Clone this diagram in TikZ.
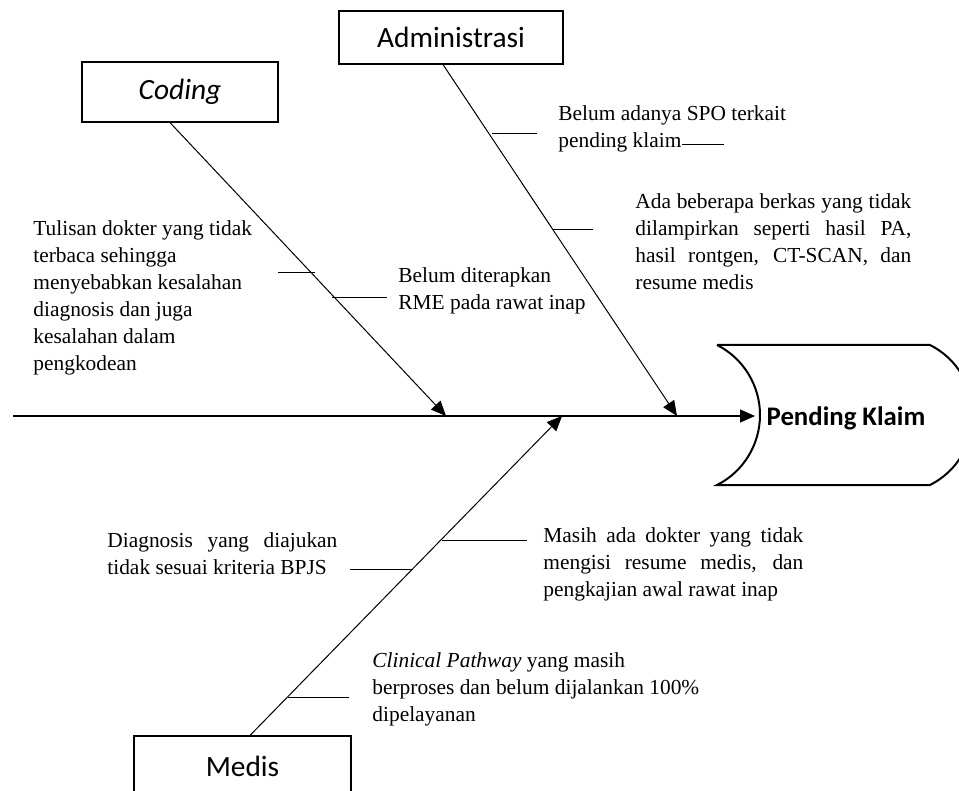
\documentclass[tikz,border=0pt]{standalone}
\usepackage{fontspec}
\setmainfont{Liberation Serif}
\newfontfamily\calibri{Carlito}
\usetikzlibrary{arrows.meta}

\tikzset{
  catbox/.style={draw, line width=0.6pt, inner sep=0pt, font=\calibri\fontsize{14.7}{17}\selectfont},
  cause/.style={inner sep=0pt, anchor=north west, font=\fontsize{10.7}{13.5}\selectfont},
  bone/.style={line width=0.5pt, -{Triangle[length=7.5pt,width=6.5pt]}},
  tick/.style={line width=0.5pt}
}
\hyphenpenalty=10000
\exhyphenpenalty=10000

\begin{document}
\begin{tikzpicture}[x=0.5pt, y=-0.5pt]
            \clip (0,0) rectangle (959,791);
            % kepala ikan
            \draw[line width=1pt] (717,345) -- (930,345)
                .. controls (956.8,358.4) and (973,386) .. (973,415)
                .. controls (973,444) and (956.8,471.6) .. (930,485) -- (717,485)
                .. controls (743.8,471.6) and (760,444) .. (760,415)
                .. controls (760,386) and (743.8,358.4) .. (717,345);
            \node[font=\calibri\bfseries\fontsize{13.4}{16}\selectfont] (klaim) at (846,418) {Pending Klaim};
            \coordinate (ekor) at (13,416);
            \coordinate (kepala) at (755,416);
            \draw[line width=0.6pt, -{Triangle[length=7.5pt,width=6.5pt]}] (ekor) -- (kepala);

            % kategori
            \node[catbox, minimum width=112pt, minimum height=26.5pt] (adm) at (451,37.5) {Administrasi};
            \node[catbox, minimum width=98pt, minimum height=30pt] (cod) at (180,92) {\itshape Coding};
            \node[catbox, minimum width=108.5pt, minimum height=30pt] (med) at (242.5,766) {Medis};

            \coordinate (tipA) at (677,416);
            \coordinate (tipC) at (446,416);
            \coordinate (tipM) at (562,416);
            \draw[bone] ([xshift=-4pt]adm.south) -- (tipA);
            \draw[bone] ([xshift=-5pt]cod.south) -- (tipC);
            \draw[bone] ([xshift=3.75pt]med.north) -- (tipM);

            % Administrasi
            \node[cause, align=left] (spo) at (558,105) {Belum adanya SPO terkait\\pending klaim};
            \node[cause, text width=138pt, align=justify] (berkas) at (635,193) {Ada beberapa berkas yang tidak\linebreak dilampirkan seperti hasil PA,\linebreak hasil rontgen, CT-SCAN, dan\linebreak resume medis};
            \coordinate (a1) at (492,134); \coordinate (a1e) at (537,134);
            \coordinate (a2) at (553,230); \coordinate (a2e) at (593,230);
            \coordinate (u1) at (682,145); \coordinate (u1e) at (724,145);
            \draw[tick] (a1) -- (a1e);
            \draw[tick] (a2) -- (a2e);
            \draw[tick] (u1) -- (u1e);

            % Coding
            \node[cause, align=left] (tulisan) at (33,220) {Tulisan dokter yang tidak\\terbaca sehingga\\menyebabkan kesalahan\\diagnosis dan juga\\kesalahan dalam\\pengkodean};
            \node[cause, align=left] (rme) at (398,267) {Belum diterapkan\\RME pada rawat inap};
            \coordinate (c1) at (278,273); \coordinate (c1e) at (315,273);
            \coordinate (c2) at (332,298); \coordinate (c2e) at (387,298);
            \draw[tick] (c1) -- (c1e);
            \draw[tick] (c2) -- (c2e);

            % Medis
            \node[cause, text width=130pt, align=justify] (resume) at (543,527) {Masih ada dokter yang tidak\linebreak mengisi resume medis, dan\linebreak pengkajian awal rawat inap};
            \node[cause, text width=115pt, align=justify] (bpjs) at (107,532) {Diagnosis yang diajukan\linebreak tidak sesuai kriteria BPJS};
            \node[cause, align=left] (cp) at (372,652) {\textit{Clinical Pathway} yang masih\\berproses dan belum dijalankan 100\%\\dipelayanan};
            \coordinate (m1) at (442,540); \coordinate (m1e) at (527,540);
            \coordinate (m2) at (350,569); \coordinate (m2e) at (412,569);
            \coordinate (m3) at (288,697); \coordinate (m3e) at (349,697);
            \draw[tick] (m1) -- (m1e);
            \draw[tick] (m2) -- (m2e);
            \draw[tick] (m3) -- (m3e);
\end{tikzpicture}
\end{document}
